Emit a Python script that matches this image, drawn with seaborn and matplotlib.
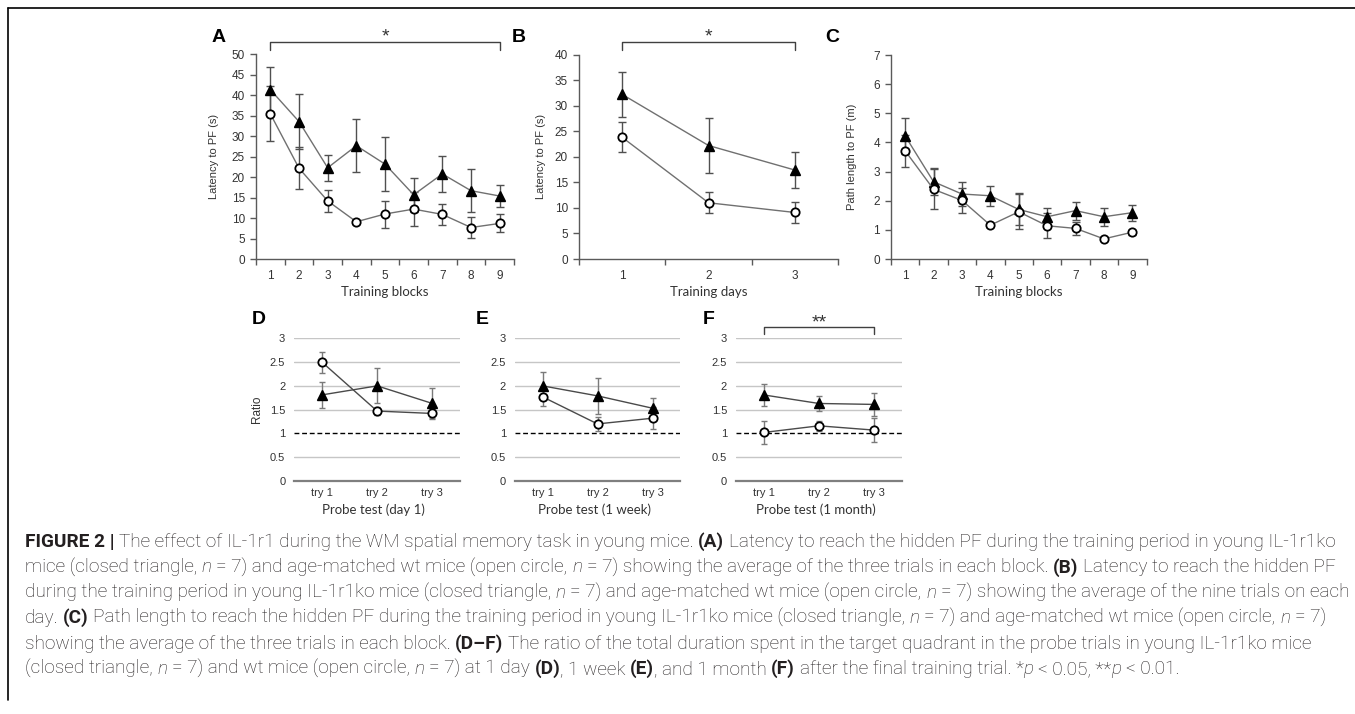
import numpy as np
import pandas as pd
import seaborn as sns
import matplotlib
matplotlib.use("Agg")
import matplotlib.pyplot as plt
from matplotlib.font_manager import FontProperties
from matplotlib.lines import Line2D
import matplotlib.transforms as mtransforms

# ---------------- data ----------------
blocks = [1, 2, 3, 4, 5, 6, 7, 8, 9]
a_ko = [41.4, 33.6, 22.3, 27.7, 23.2, 15.7, 20.8, 16.7, 15.4]
a_ko_err = [5.5, 6.7, 3.2, 6.5, 6.6, 4.2, 4.4, 5.2, 2.7]
a_wt = [35.5, 22.2, 14.2, 9.1, 11.0, 12.2, 10.9, 7.7, 8.7]
a_wt_err = [6.7, 5.2, 2.7, 0.5, 3.3, 4.1, 2.6, 2.5, 2.2]

days = [1, 2, 3]
b_ko = [32.2, 22.2, 17.4]
b_ko_err = [4.4, 5.3, 3.6]
b_wt = [23.8, 11.0, 9.1]
b_wt_err = [2.9, 2.1, 2.0]

c_ko = [4.22, 2.65, 2.23, 2.17, 1.70, 1.45, 1.66, 1.45, 1.59]
c_ko_err = [0.61, 0.46, 0.40, 0.34, 0.55, 0.29, 0.31, 0.31, 0.28]
c_wt = [3.71, 2.39, 2.01, 1.16, 1.62, 1.14, 1.05, 0.69, 0.92]
c_wt_err = [0.54, 0.69, 0.44, 0.05, 0.60, 0.43, 0.23, 0.05, 0.08]

tries = ["try 1", "try 2", "try 3"]
d_ko = [1.81, 2.00, 1.63]
d_ko_err = [0.28, 0.37, 0.33]
d_wt = [2.50, 1.47, 1.42]
d_wt_err = [0.22, 0.08, 0.10]
e_ko = [2.00, 1.79, 1.53]
e_ko_err = [0.30, 0.38, 0.22]
e_wt = [1.77, 1.20, 1.32]
e_wt_err = [0.19, 0.14, 0.23]
f_ko = [1.81, 1.63, 1.61]
f_ko_err = [0.23, 0.16, 0.24]
f_wt = [1.02, 1.16, 1.07]
f_wt_err = [0.25, 0.11, 0.26]

a_yticks = [0, 5, 10, 15, 20, 25, 30, 35, 40, 45, 50]
b_yticks = [0, 5, 10, 15, 20, 25, 30, 35, 40]
c_yticks = [0, 1, 2, 3, 4, 5, 6, 7]
ratio_ticks = [0, 0.5, 1, 1.5, 2, 2.5, 3]
ratio_labels = ["0", "0.5", "1", "1.5", "2", "2.5", "3"]

caption = [
    [("FIGURE 2 |", "b"), (" The effect of IL-1r1 during the WM spatial memory task in young mice. ", "r"),
     ("(A)", "b"), (" Latency to reach the hidden PF during the training period in young IL-1r1ko", "r")],
    [("mice (closed triangle, ", "r"), ("n", "i"), (" = 7) and age-matched wt mice (open circle, ", "r"), ("n", "i"),
     (" = 7) showing the average of the three trials in each block. ", "r"), ("(B)", "b"),
     (" Latency to reach the hidden PF", "r")],
    [("during the training period in young IL-1r1ko mice (closed triangle, ", "r"), ("n", "i"),
     (" = 7) and age-matched wt mice (open circle, ", "r"), ("n", "i"),
     (" = 7) showing the average of the nine trials on each", "r")],
    [("day. ", "r"), ("(C)", "b"),
     (" Path length to reach the hidden PF during the training period in young IL-1r1ko mice (closed triangle, ", "r"),
     ("n", "i"), (" = 7) and age-matched wt mice (open circle, ", "r"), ("n", "i"), (" = 7)", "r")],
    [("showing the average of the three trials in each block. ", "r"), ("(D\u2013F)", "b"),
     (" The ratio of the total duration spent in the target quadrant in the probe trials in young IL-1r1ko mice", "r")],
    [("(closed triangle, ", "r"), ("n", "i"), (" = 7) and wt mice (open circle, ", "r"), ("n", "i"),
     (" = 7) at 1 day ", "r"), ("(D)", "b"), (", 1 week ", "r"), ("(E)", "b"), (", and 1 month ", "r"),
     ("(F)", "b"), (" after the final training trial. *", "r"), ("p", "i"), (" < 0.05, **", "r"), ("p", "i"),
     (" < 0.01.", "r")],
]

# ---------------- style ----------------
sns.set_theme(style="white")
plt.rcParams["font.family"] = ["Liberation Sans", "DejaVu Sans"]

W, H = 1355, 714
fig = plt.figure(figsize=(W / 100, H / 100), dpi=100)
fig.patch.set_facecolor("white")


def rect(l, r, t, b):
    return [l / W, 1 - b / H, (r - l) / W, (b - t) / H]


def fx(px):
    return px / W


def fy(py):
    return 1 - py / H


SPINE = "#5a5a5a"
TXT = "#333333"
LBL_FONT = ["Lato", "Open Sans", "DejaVu Sans"]


def training_panel(ax, x, ko, ko_err, wt, wt_err, yticks, ylabel, xlabel, ylab_x):
    ax.errorbar(x, ko, yerr=ko_err, fmt="none", ecolor="#505050", elinewidth=1,
                capsize=3, capthick=1, zorder=2)
    ax.errorbar(x, wt, yerr=wt_err, fmt="none", ecolor="#505050", elinewidth=1,
                capsize=3, capthick=1, zorder=2)
    sns.lineplot(x=x, y=ko, ax=ax, color="#707070", lw=1, marker="^", markersize=7,
                 markerfacecolor="black", markeredgecolor="black", markeredgewidth=1,
                 errorbar=None, zorder=3)
    sns.lineplot(x=x, y=wt, ax=ax, color="#707070", lw=1, marker="o", markersize=6,
                 markerfacecolor="white", markeredgecolor="black", markeredgewidth=1.3,
                 errorbar=None, zorder=4)
    n = len(x)
    ax.set_xlim(0.5, n + 0.5)
    ax.set_ylim(yticks[0], yticks[-1])
    ax.set_xticks(np.arange(0.5, n + 1.0, 1.0))
    ax.set_xticklabels([])
    ax.set_xticks(x, labels=[str(v) for v in x], minor=True)
    ax.tick_params(axis="x", which="major", length=4, width=1, color=SPINE, direction="out", bottom=True)
    ax.tick_params(axis="x", which="minor", length=0, pad=8, labelsize=8.5, labelcolor=TXT, bottom=True)
    ax.set_yticks(yticks)
    ax.set_yticklabels([str(v) for v in yticks])
    ax.tick_params(axis="y", length=4, width=1, color=SPINE, direction="out", pad=4,
                   labelsize=8.5, labelcolor=TXT, left=True)
    for s in ["top", "right"]:
        ax.spines[s].set_visible(False)
    for s in ["left", "bottom"]:
        ax.spines[s].set_color(SPINE)
        ax.spines[s].set_linewidth(1)
    ax.set_ylabel(ylabel, fontsize=8, color=TXT)
    ax.yaxis.set_label_coords(ylab_x, 0.5)
    ax.yaxis.label.set_va("center")
    ax.set_xlabel(xlabel, fontsize=9.5, color=TXT, family=LBL_FONT)
    ax.xaxis.set_label_coords(0.5, -0.163)
    ax.xaxis.label.set_va("center")
    ax.grid(False)
    ax.set_facecolor("white")


def probe_panel(ax, ko, ko_err, wt, wt_err, xlabel, ylabel=None):
    x = np.arange(1, len(tries) + 1)
    ax.set_ylim(0, 3)
    ax.set_xlim(0.5, len(tries) + 0.5)
    for v in ratio_ticks[1:]:
        if v != 1:
            ax.axhline(v, color="#c6c6c6", lw=1, zorder=1)
    ax.axhline(1, color="black", lw=1, ls=(0, (3.5, 2)), zorder=1.5)
    ax.errorbar(x, ko, yerr=ko_err, fmt="none", ecolor="#7a7a7a", elinewidth=1,
                capsize=2, capthick=1, zorder=2)
    ax.errorbar(x, wt, yerr=wt_err, fmt="none", ecolor="#7a7a7a", elinewidth=1,
                capsize=2, capthick=1, zorder=2)
    sns.lineplot(x=x, y=ko, ax=ax, color="#4a4a4a", lw=1, marker="^", markersize=7,
                 markerfacecolor="black", markeredgecolor="black", markeredgewidth=1,
                 errorbar=None, zorder=3)
    sns.lineplot(x=x, y=wt, ax=ax, color="#4a4a4a", lw=1, marker="o", markersize=6,
                 markerfacecolor="white", markeredgecolor="black", markeredgewidth=1.3,
                 errorbar=None, zorder=4)
    ax.set_xticks(x, labels=tries)
    ax.set_yticks(ratio_ticks, labels=ratio_labels)
    ax.tick_params(axis="x", length=0, pad=5, labelsize=8, labelcolor=TXT)
    ax.tick_params(axis="y", length=0, pad=6.5, labelsize=8, labelcolor=TXT)
    for s in ["top", "right", "left"]:
        ax.spines[s].set_visible(False)
    ax.spines["bottom"].set_color("#7f7f7f")
    ax.spines["bottom"].set_linewidth(1.6)
    ax.set_xlabel(xlabel, fontsize=9.5, color=TXT, family=LBL_FONT)
    ax.xaxis.set_label_coords(0.48, -0.203)
    ax.xaxis.label.set_va("center")
    if ylabel:
        ax.set_ylabel(ylabel, fontsize=8.5, color=TXT)
        ax.yaxis.set_label_coords(-0.225, 0.5)
        ax.yaxis.label.set_va("center")
    else:
        ax.set_ylabel("")
    ax.grid(False)
    ax.set_facecolor("white")


axA = fig.add_axes(rect(256, 514, 54.5, 259))
axB = fig.add_axes(rect(579, 838, 54.5, 259))
axC = fig.add_axes(rect(891, 1146.5, 55, 259))
axD = fig.add_axes(rect(294.3, 460, 338.3, 481))
axE = fig.add_axes(rect(515, 680, 338.3, 481))
axF = fig.add_axes(rect(736, 901.7, 338.3, 481))

training_panel(axA, blocks, a_ko, a_ko_err, a_wt, a_wt_err, a_yticks,
               "Latency to PF (s)", "Training blocks", -0.163)
training_panel(axB, days, b_ko, b_ko_err, b_wt, b_wt_err, b_yticks,
               "Latency to PF (s)", "Training days", -0.147)
training_panel(axC, blocks, c_ko, c_ko_err, c_wt, c_wt_err, c_yticks,
               "Path length to PF (m)", "Training blocks", -0.153)
probe_panel(axD, d_ko, d_ko_err, d_wt, d_wt_err, "Probe test (day 1)", "Ratio")
probe_panel(axE, e_ko, e_ko_err, e_wt, e_wt_err, "Probe test (1 week)")
probe_panel(axF, f_ko, f_ko_err, f_wt, f_wt_err, "Probe test (1 month)")


# significance brackets
def bracket(ax, x0, x1, ytop, ydrop, label, label_y):
    tr = mtransforms.blended_transform_factory(ax.transData, ax.transAxes)
    ax.plot([x0, x0, x1, x1], [ydrop, ytop, ytop, ydrop], color="#404040", lw=1,
            transform=tr, clip_on=False, zorder=5)
    ax.text((x0 + x1) / 2, label_y, label, transform=tr, ha="center", va="baseline",
            fontsize=14, color="#333333")


bracket(axA, 1, 9, 1 + (54.5 - 41.7) / 204.5, 1 + (54.5 - 50) / 204.5, "*", 1 + (54.5 - 41) / 204.5)
bracket(axB, 1, 3, 1 + (54.5 - 41.7) / 204.5, 1 + (54.5 - 50) / 204.5, "*", 1 + (54.5 - 41) / 204.5)
bracket(axF, 1, 3, 1 + (338.3 - 327.3) / 142.7, 1 + (338.3 - 334) / 142.7, "**", 1 + (338.3 - 327) / 142.7)

# panel letters
for letter, (px, py) in {"A": (219, 38), "B": (519, 38), "C": (832, 38),
                         "D": (259, 320), "E": (482, 320), "F": (709, 320)}.items():
    fig.text(fx(px), fy(py), letter, ha="center", va="center", fontsize=14,
             fontweight="bold", color="black")

# frame lines
fig.add_artist(Line2D([fx(8), fx(1355)], [fy(8), fy(8)], color="black", lw=1.2))
fig.add_artist(Line2D([fx(8), fx(8)], [fy(8), fy(700)], color="black", lw=1.2))

# ---------------- caption ----------------
renderer = fig.canvas.get_renderer()
CAP_FAM = ["Liberation Sans Narrow", "Roboto", "DejaVu Sans"]


def make_props(size):
    return {
        "r": FontProperties(family=CAP_FAM, size=size, weight="light", style="normal"),
        "b": FontProperties(family=CAP_FAM, size=size, weight="bold", style="normal"),
        "i": FontProperties(family=CAP_FAM, size=size, weight="light", style="italic"),
    }


def tw(s, prop):
    w1, _, _ = renderer.get_text_width_height_descent("x" + s + "x", prop, ismath=False)
    w2, _, _ = renderer.get_text_width_height_descent("xx", prop, ismath=False)
    return w1 - w2


def line_width(segs, props):
    return sum(tw(s, props[k]) for s, k in segs)


base = 10.0
w0 = line_width(caption[0], make_props(base))
cap_size = base * (1335 - 25) / w0
props = make_props(cap_size)

for i, segs in enumerate(caption):
    x = 25.0
    yb = 547 + 25.4 * i
    for s, k in segs:
        p = props[k]
        core = s.strip(" ")
        lead = len(s) - len(s.lstrip(" "))
        trail = len(s) - len(s.rstrip(" "))
        if lead:
            x += tw(" " * lead, p)
        if core:
            fig.text(fx(x), fy(yb), core, fontproperties=p, ha="left", va="baseline", color="#231f20")
            x += tw(core, p)
        if trail:
            x += tw(" " * trail, p)

fig.savefig("out.png", dpi=100, facecolor="white")
